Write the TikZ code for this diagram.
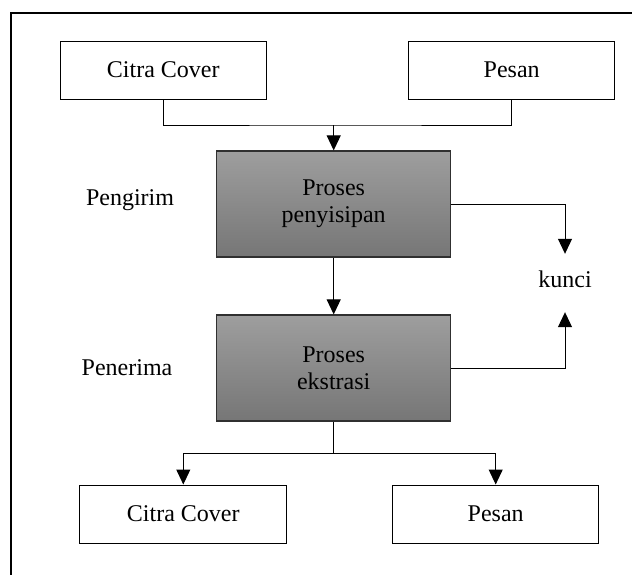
\documentclass[tikz,border=0pt]{standalone}
\usepackage{fontspec}
\setmainfont{Liberation Serif}
\usepackage{tikz}
\usetikzlibrary{arrows.meta}

\definecolor{boxtop}{HTML}{9E9E9E}
\definecolor{boxbot}{HTML}{767676}
\definecolor{boxline}{HTML}{303030}

\tikzset{
    plainbox/.style={draw, line width=1pt, minimum width=206pt, minimum height=58pt, inner sep=0pt},
    procbox/.style={draw=boxline, line width=1.2pt, top color=boxtop, bottom color=boxbot,
        minimum width=234pt, minimum height=106pt, inner sep=0pt, align=center},
    lbl/.style={inner sep=0pt},
    arr/.style={line width=1pt, -{Triangle[length=15pt, width=14pt]}},
    ln/.style={line width=1pt}
}

\begin{document}
\begin{tikzpicture}[x=1pt, y=-1pt, font=\fontsize{24}{27}\selectfont]
        \useasboundingbox (0,0) rectangle (632,574);
        \clip (0,0) rectangle (632,574);
        \draw[line width=2.2pt] (11,13) rectangle (700,700);

        % masukan
        \node[plainbox] (citraA) at (163.3,70) {Citra Cover};
        \node[plainbox] (pesanA) at (511.7,70) {Pesan};

        % proses
        \node[procbox] (sisip) at (333.7,204) {Proses\\penyisipan};
        \node[procbox] (ekstrak) at (333.7,368) {Proses\\ekstrasi};
        \node[lbl] (kirim) at (130,200) {Pengirim};
        \node[lbl] (terima) at (127,368) {Penerima};
        \node[lbl, minimum height=50pt] (kunci) at (565,279) {kunci};

        % keluaran
        \node[plainbox, minimum width=206.7pt] (citraB) at (183.3,514) {Citra Cover};
        \node[plainbox] (pesanB) at (495.7,514) {Pesan};

        \coordinate (gabung) at (333.7,125);
        \coordinate (pisah) at (333.7,453);

        \draw[ln] (citraA.south) |- (gabung) -| (pesanA.south);
        \draw[arr] (gabung) -- (sisip.north);
        \draw[arr] (sisip) -- (ekstrak);
        \draw[arr] (sisip.east) -| (kunci.north);
        \draw[arr] (ekstrak.east) -| ([yshift=-8pt]kunci.south);
        \draw[ln] (ekstrak.south) -- (pisah);
        \draw[arr] (pisah) -| (citraB.north);
        \draw[arr] (pisah) -| (pesanB.north);
    \end{tikzpicture}
\end{document}
